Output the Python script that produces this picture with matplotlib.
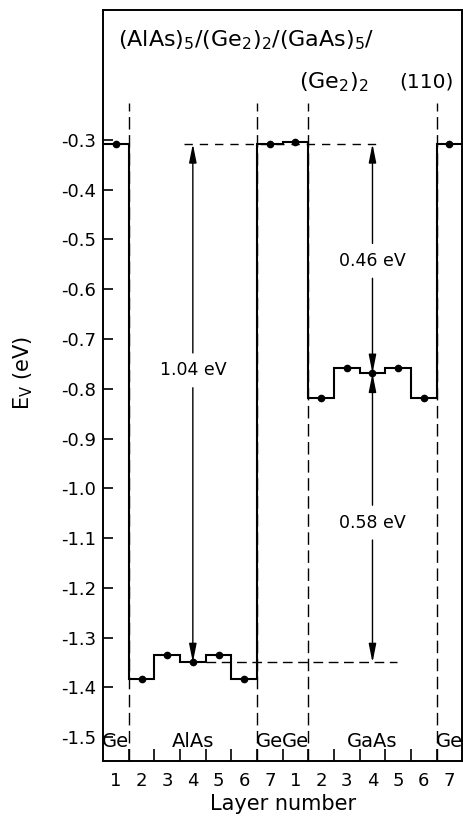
import numpy as np
import matplotlib.pyplot as plt

plt.rcParams['font.family'] = ['DejaVu Sans']
plt.rcParams['mathtext.default'] = 'regular'

# Valence band energy per layer for (AlAs)5/(Ge2)2/(GaAs)5/(Ge2)2 (110)
layers = np.arange(1, 15)
ev = [-0.308, -1.384, -1.334, -1.350, -1.334, -1.384, -0.308,
      -0.304, -0.818, -0.759, -0.769, -0.759, -0.818, -0.308]
layer_labels = ['1', '2', '3', '4', '5', '6', '7', '1', '2', '3', '4', '5', '6', '7']
ytick_vals = [-0.3, -0.4, -0.5, -0.6, -0.7, -0.8, -0.9, -1.0, -1.1, -1.2, -1.3, -1.4, -1.5]
interfaces = [1.5, 6.5, 8.5, 13.5]
regions = ['Ge', 'AlAs', 'Ge', 'Ge', 'GaAs', 'Ge']
region_pos = [1, 4, 7, 8, 11, 14]

# offsets
top_level = -0.308
alas_level = -1.350
gaas_level = -0.769
offsets = [('1.04 eV', 4, top_level, alas_level, -0.763),
           ('0.46 eV', 11, top_level, gaas_level, -0.543),
           ('0.58 eV', 11, gaas_level, alas_level, -1.069)]

fig = plt.figure(figsize=(4.63, 8.16), dpi=100)
ax = fig.add_axes([0.2225, 0.068, 0.776, 0.920])

ylo, yhi = -1.547, -0.0385
ax.set_xlim(0.5, 14.5)
ax.set_ylim(ylo, yhi)

# interface markers
for xi in interfaces:
    ax.plot([xi, xi], [ylo, -0.226], color='k', lw=1.0, dashes=(9, 4), zorder=1)

# reference levels for the offsets
ax.plot([3.65, 11.3], [top_level, top_level], color='k', lw=1.0, dashes=(6, 5))
ax.plot([4.5, 11.97], [alas_level, alas_level], color='k', lw=1.0, dashes=(7, 4))

# band profile
edges = np.arange(0.5, 15.5, 1.0)
ax.stairs(ev, edges, baseline=None, color='k', lw=1.5, zorder=3)
ax.plot(layers, ev, 'o', color='k', ms=4.5, zorder=4)

# double arrows with the value in the gap
for text, xa, y1, y2, yt in offsets:
    half = 0.03
    aprops = dict(arrowstyle='-|>,head_length=0.8,head_width=0.16', color='k',
                  lw=1.0, shrinkA=0, shrinkB=0, mutation_scale=14)
    ax.annotate('', xy=(xa, y1), xytext=(xa, yt + half + 0.005), arrowprops=aprops)
    ax.annotate('', xy=(xa, y2), xytext=(xa, yt - half - 0.005), arrowprops=aprops)
    ax.text(xa, yt, text, ha='center', va='center', fontsize=12.5)

# region names along the bottom
for name, xp in zip(regions, region_pos):
    ax.text(xp, -1.508, name, ha='center', va='center', fontsize=14)

ax.text(1.1, -0.099, r'(AlAs)$_5$/(Ge$_2$)$_2$/(GaAs)$_5$/', ha='left',
        va='center', fontsize=16)
ax.text(9.48, -0.183, r'(Ge$_2$)$_2$', ha='center', va='center', fontsize=16)
ax.text(13.1, -0.183, '(110)', ha='center', va='center', fontsize=14.5)

ax.set_yticks(ytick_vals)
ax.set_yticklabels([f'{v:.1f}' for v in ytick_vals], fontsize=13)
ax.tick_params(axis='y', direction='in', length=7, width=1.2, pad=5)

ax.set_xticks(edges[1:-1])
ax.set_xticklabels([])
ax.tick_params(axis='x', which='major', direction='in', length=9, width=1.2)
ax.set_xticks(layers, minor=True)
ax.set_xticklabels(layer_labels, minor=True, fontsize=13)
ax.tick_params(axis='x', which='minor', length=0, pad=8)

ax.set_ylabel(r'E$_V$ (eV)', fontsize=15)
ax.yaxis.set_label_coords(-0.19, 0.516)
ax.set_xlabel('Layer number', fontsize=15)
ax.xaxis.set_label_coords(0.5, -0.044)

for s in ax.spines.values():
    s.set_linewidth(1.4)

fig.savefig('out.png', dpi=100)
